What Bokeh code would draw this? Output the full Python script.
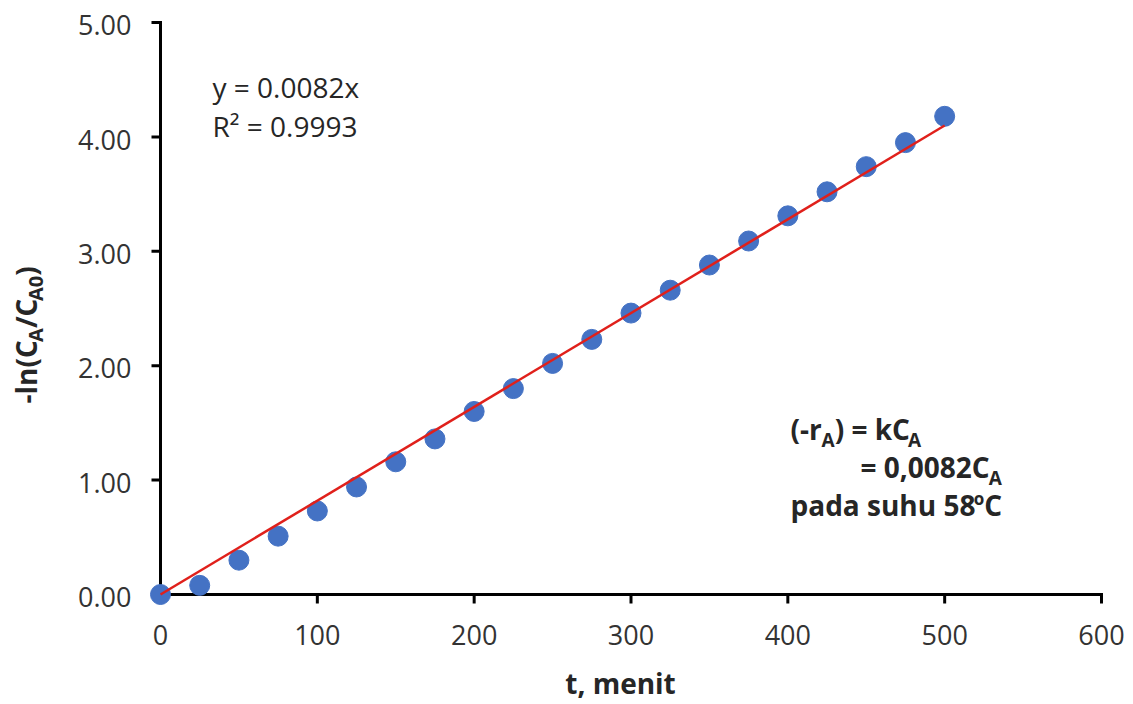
import math
from bokeh.plotting import figure
from bokeh.models import Range1d, Label, ColumnDataSource
from bokeh.core.properties import value
from bokeh.embed import file_html
from bokeh.resources import INLINE

# ---------------- data ----------------
t_menit = [0, 25, 50, 75, 100, 125, 150, 175, 200, 225, 250,
           275, 300, 325, 350, 375, 400, 425, 450, 475, 500]
neg_ln_ratio = [0.00, 0.08, 0.30, 0.51, 0.73, 0.94, 1.16, 1.36, 1.60, 1.80, 2.02,
                2.23, 2.46, 2.66, 2.88, 3.09, 3.31, 3.52, 3.74, 3.95, 4.18]
trend_slope = 0.0082
trend_t = [0, 500]
trend_y = [trend_slope * t for t in trend_t]
x_ticks = [0, 100, 200, 300, 400, 500, 600]
y_ticks = [0, 1, 2, 3, 4, 5]
x_tick_labels = [str(v) for v in x_ticks]
y_tick_labels = [f"{v:.2f}" for v in y_ticks]

# ---------------- layout ----------------
W, H = 1133, 704
AX_L, AX_R, AX_T, AX_B = 160, 1101, 22, 594       # axis box in px
XMIN, XMAX, YMIN, YMAX = 0.0, 600.0, 0.0, 5.0
SX = (AX_R - AX_L) / (XMAX - XMIN)
SY = (AX_B - AX_T) / (YMAX - YMIN)
X0, X1 = XMIN - AX_L / SX, XMAX + (W - AX_R) / SX
Y0, Y1 = YMIN - (H - AX_B) / SY, YMAX + AX_T / SY
BASE_FIX = 0.31   # em offset between wanted alphabetic baseline and rendered one


def px2x(px):
    return X0 + px / SX


def px2y(py):
    return Y0 + (H - py) / SY


FONT = "Open Sans"
TXT = "#262626"
TICK_TXT = "#333333"

p = figure(width=W, height=H, x_range=Range1d(X0, X1), y_range=Range1d(Y0, Y1),
           output_backend="svg", toolbar_location=None,
           x_axis_location=None, y_axis_location=None, min_border=0)
p.outline_line_color = None
p.center = []
p.background_fill_color = "white"
p.border_fill_color = "white"

# ---------------- axes (drawn in data space) ----------------
TICK = 9  # px
TICK_FS = 27
p.segment(x0=[XMIN, XMIN], y0=[YMIN, YMIN], x1=[XMAX, XMIN], y1=[YMIN, YMAX],
          line_color="black", line_width=3, line_cap="square")
p.segment(x0=x_ticks, y0=[YMIN] * len(x_ticks), x1=x_ticks,
          y1=[YMIN - TICK / SY] * len(x_ticks), line_color="black", line_width=3)
p.segment(x0=[XMIN] * len(y_ticks), y0=y_ticks, x1=[XMIN - TICK / SX] * len(y_ticks),
          y1=y_ticks, line_color="black", line_width=3)

xl_off = 49 - BASE_FIX * TICK_FS
yl_off = 11 - BASE_FIX * TICK_FS
p.text(x=x_ticks, y=[YMIN - xl_off / SY] * len(x_ticks), text=x_tick_labels,
       text_font=value(FONT), text_font_size=f"{TICK_FS}px", text_color=TICK_TXT,
       text_align="center", text_baseline="alphabetic")
p.text(x=[XMIN - 29 / SX] * len(y_ticks), y=[v - yl_off / SY for v in y_ticks],
       text=y_tick_labels, text_font=value(FONT), text_font_size=f"{TICK_FS}px",
       text_color=TICK_TXT, text_align="right", text_baseline="alphabetic")

# ---------------- data marks ----------------
src = ColumnDataSource(dict(t=t_menit, y=neg_ln_ratio))
p.scatter("t", "y", source=src, size=20, fill_color="#4472C4", line_color="#4472C4")
p.line(trend_t, trend_y, line_color="#E0201B", line_width=2.5)

# ---------------- text helpers ----------------
OB = {"(": .34, "-": .32, "r": .45, ")": .34, " ": .26, "=": .57, "k": .59, "C": .60,
      "A": .69, ",": .29, "p": .63, "a": .60, "d": .63, "s": .50, "u": .64, "h": .64,
      "o": .62, "l": .30, "n": .64, "/": .37, "t": .43, "m": .96, "e": .59, "i": .30}


def wbold(s, size):
    return sum(OB.get(c, .572) for c in s) * size


def add_text(txt, px, py, size, bold=False, angle=0.0, align="left"):
    if angle == 0.0:
        py = py - BASE_FIX * size
    else:
        px = px - BASE_FIX * size
    p.add_layout(Label(x=px2x(px), y=px2y(py), text=txt, text_font=FONT,
                       text_font_size=f"{size}px",
                       text_font_style="bold" if bold else "normal",
                       text_color=TXT, text_align=align, text_baseline="alphabetic",
                       angle=angle))


def add_run(pieces, px, py, horizontal=True):
    """pieces: (text, size, shift); shift>0 lowers the baseline (subscript)."""
    pos = px
    for txt, size, shift in pieces:
        if horizontal:
            add_text(txt, pos, py + shift, size, bold=True)
            pos += wbold(txt, size)
        else:
            add_text(txt, py + shift, pos, size, bold=True, angle=math.pi / 2)
            pos -= wbold(txt, size)


# trend-line equation
add_text("y = 0.0082x", 212, 95, 28)
add_text("R² = 0.9993", 212, 134, 28)

# kinetics annotation
add_run([("(-r", 28, 0), ("A", 19, 8), (") = kC", 28, 0), ("A", 19, 8)], 790, 437)
add_run([("= 0,0082C", 28, 0), ("A", 19, 8)], 860, 475)
add_run([("pada suhu 58", 28, 0), ("o", 17, -10), ("C", 28, 0)], 790, 513)

# axis titles
add_text("t, menit", 620, 691, 28, bold=True, align="center")
add_run([("-ln(C", 28, 0), ("A", 20, 7), ("/C", 28, 0), ("A0", 20, 7), (")", 28, 0)],
        403, 34, horizontal=False)

open("out.html", "w").write(file_html(p, INLINE))
